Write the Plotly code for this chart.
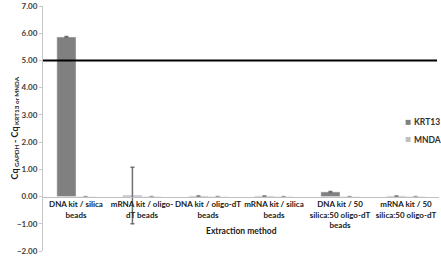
import plotly.graph_objects as go

categories = ["DNA kit / silica<br>beads", "mRNA kit / oligo-<br>dT beads", "DNA kit / oligo-dT<br>beads",
              "mRNA kit / silica<br>beads", "DNA kit / 50<br>silica:50 oligo-dT<br>beads",
              "mRNA kit / 50<br>silica:50 oligo-dT"]
krt13 = [5.86, 0.04, 0.02, 0.02, 0.17, 0.02]
krt13_err = [0.02, 1.04, 0.0, 0.0, 0.02, 0.0]
mnda = [0.0, 0.0, 0.0, 0.0, 0.0, 0.0]
mnda_err = [0.0, 0.0, 0.0, 0.0, 0.0, 0.0]
series_names = ["KRT13", "MNDA"]
series_colors = ["#808080", "#c0c0c0"]
threshold = 5.0
y_ticks = [-2, -1, 0, 1, 2, 3, 4, 5, 6, 7]

FONT = "Lato"
fig = go.Figure()
fig.add_trace(go.Bar(x=categories, y=krt13, name=series_names[0], marker_color=series_colors[0], showlegend=False,
                     error_y=dict(type="data", array=krt13_err, color="#707070", thickness=1.5, width=2)))
fig.add_trace(go.Bar(x=categories, y=mnda, name=series_names[1], marker_color=series_colors[1], showlegend=False,
                     error_y=dict(type="data", array=mnda_err, color="#a0a0a0", thickness=1.5, width=2)))

fig.add_shape(type="line", xref="paper", yref="y", x0=0, x1=0.995, y0=threshold, y1=threshold,
              line=dict(color="black", width=2))

# manual legend (paper coords)
leg_x = 0.922
leg_y = [0.525, 0.455]
for nm, col, ly in zip(series_names, series_colors, leg_y):
    fig.add_shape(type="rect", xref="paper", yref="paper", xsizemode="pixel", ysizemode="pixel",
                  xanchor=leg_x, yanchor=ly, x0=-2.5, x1=2.5, y0=-2.5, y1=2.5,
                  fillcolor=col, line=dict(width=0))
    fig.add_annotation(text=nm, xref="paper", yref="paper", x=leg_x, xshift=4, y=ly, xanchor="left",
                       yanchor="middle", showarrow=False,
                       font=dict(family=FONT, size=8.5, color="#303030", weight="bold"))

fig.update_layout(
    width=441, height=260, margin=dict(l=43, r=2, t=6, b=9, autoexpand=False),
    plot_bgcolor="white", paper_bgcolor="white",
    barmode="group", bargap=0.42, bargroupgap=0,
    font=dict(family=FONT, size=8, color="#404040"),
    xaxis=dict(anchor="free", position=2/9, showline=True, linecolor="#bfbfbf", linewidth=1,
               ticks="", tickfont=dict(family=FONT, size=8, color="#202020", weight="bold"),
               tickangle=0, showgrid=False),
    yaxis=dict(range=[-2, 7], tickvals=y_ticks, tickformat=".2f", showline=True, linecolor="#c8c8c8",
               linewidth=1, ticks="outside", ticklen=3, tickcolor="#c8c8c8", showgrid=False,
               zeroline=False, tickfont=dict(family=FONT, size=8, color="#404040", weight="bold")),
    showlegend=False,
)

fig.add_annotation(text="Extraction method", xref="paper", yref="paper", x=0.5, y=0.081, yanchor="middle",
                   showarrow=False, font=dict(family=FONT, size=8.5, color="#202020", weight="bold"))
fig.add_annotation(text="Cq<sub> GAPDH </sub>- Cq<sub> KRT13 or MNDA</sub>", xref="paper", yref="paper",
                   x=0, xshift=-37, y=0.5, textangle=-90, showarrow=False,
                   font=dict(family=FONT, size=9, color="#202020", weight="bold"))

fig.write_html("out.html")
